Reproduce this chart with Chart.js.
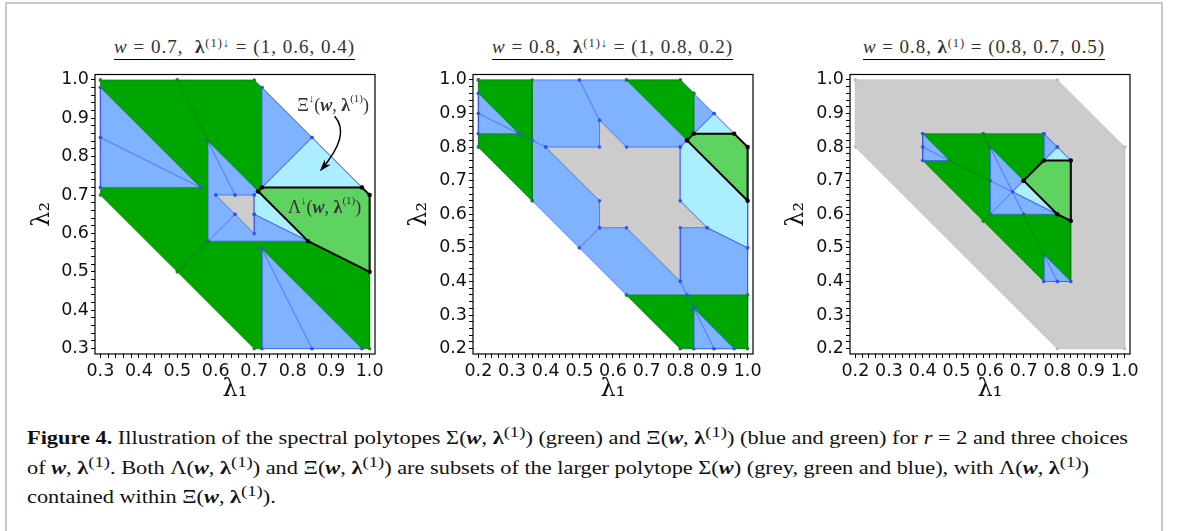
<!DOCTYPE html>
<html><head><meta charset="utf-8">
<script src="https://cdn.jsdelivr.net/npm/chart.js@4.4.0/dist/chart.umd.min.js"></script>
<style>
body{margin:0;background:#fff;width:1179px;height:531px;overflow:hidden;position:relative;font-family:'Liberation Serif','DejaVu Serif',serif;}
#frame{position:absolute;left:5px;top:2px;width:1158px;height:560px;border:2px solid #c8c8c8;box-sizing:border-box;}
canvas{position:absolute;top:62px;}
.ttl{position:absolute;top:37px;font-size:19px;line-height:20px;color:#333;white-space:nowrap;border-bottom:1.5px solid #000;padding:0 0 2px 0;}
.ttl sup,.cap sup{font-size:0.66em;line-height:0;vertical-align:0.5em;}
#cap{position:absolute;left:27px;top:421px;font-size:18px;line-height:23.5px;color:#111;transform-origin:0 0;}
#cap div{white-space:nowrap;}
</style></head>
<body>
<div id="frame"></div>
<div class="ttl" id="t1" data-c="234.5" data-w="241"><i>w</i> = 0.7,&nbsp; <b>λ</b><sup>(1)↓</sup> = (1, 0.6, 0.4)</div>
<div class="ttl" id="t2" data-c="612.5" data-w="241"><i>w</i> = 0.8,&nbsp; <b>λ</b><sup>(1)↓</sup> = (1, 0.8, 0.2)</div>
<div class="ttl" id="t3" data-c="984" data-w="242"><i>w</i> = 0.8, <b>λ</b><sup>(1)</sup> = (0.8, 0.7, 0.5)</div>
<canvas id="c1" width="389" height="352" style="left:0px"></canvas>
<canvas id="c2" width="389" height="352" style="left:378px"></canvas>
<canvas id="c3" width="389" height="352" style="left:755px"></canvas>
<div id="cap">
<div id="cl1"><b>Figure 4.</b> Illustration of the spectral polytopes Σ(<b><i>w</i></b>, <b>λ</b><sup>(1)</sup>) (green) and Ξ(<b><i>w</i></b>, <b>λ</b><sup>(1)</sup>) (blue and green) for <i>r</i> = 2 and three choices</div>
<div id="cl2">of <b><i>w</i></b>, <b>λ</b><sup>(1)</sup>. Both Λ(<b><i>w</i></b>, <b>λ</b><sup>(1)</sup>) and Ξ(<b><i>w</i></b>, <b>λ</b><sup>(1)</sup>) are subsets of the larger polytope Σ(<b><i>w</i></b>) (grey, green and blue), with Λ(<b><i>w</i></b>, <b>λ</b><sup>(1)</sup>)</div>
<div id="cl3">contained within Ξ(<b><i>w</i></b>, <b>λ</b><sup>(1)</sup>).</div>
</div>
<script>
// ---------- data ----------
const range1 = [0.286, 1.014];
const range23 = [0.184, 1.016];
const majorTicks1 = [0.3, 0.4, 0.5, 0.6, 0.7, 0.8, 0.9, 1.0];
const majorTicks23 = [0.2, 0.3, 0.4, 0.5, 0.6, 0.7, 0.8, 0.9, 1.0];

// panel 1: w = 0.7, lambda = (1, 0.6, 0.4)
const p1Sigma = [[0.3,1.0],[0.5,1.0],[0.7,1.0],[0.72,0.98],[0.98,0.72],[1.0,0.7],[1.0,0.5],[1.0,0.3],[0.98,0.3],[0.72,0.3],[0.7,0.3],[0.5,0.5],[0.3,0.7],[0.3,0.72],[0.3,0.98]];
const p1Green = [];
const p1Blue = [
  [[0.3,0.98],[0.3,0.85],[0.3,0.72],[0.56,0.72]],
  [[0.72,0.56],[0.72,0.3],[0.85,0.3],[0.98,0.3]],
  [[0.72,0.98],[0.85,0.85],[0.98,0.72],[0.72,0.72]],
  [[0.58,0.84],[0.71,0.71],[0.84,0.58],[0.58,0.58]]
];
const p1Grey = [[[0.6,0.7],[0.65,0.7],[0.7,0.7],[0.7,0.65],[0.7,0.6],[0.65,0.65]]];
const p1LightBlue = [[[0.72,0.72],[0.85,0.85],[0.98,0.72]], [[0.7,0.7],[0.71,0.71],[0.84,0.58],[0.7,0.65]]];
const p1Lambda = [[0.71,0.71],[0.72,0.72],[0.98,0.72],[1.0,0.7],[1.0,0.5],[0.84,0.58]];
const p1BlueLines = [[[0.3,0.85],[0.56,0.72]], [[0.85,0.3],[0.72,0.56]], [[0.72,0.72],[0.85,0.85]], [[0.58,0.84],[0.65,0.7]], [[0.65,0.65],[0.58,0.58]], [[0.7,0.65],[0.84,0.58]]];
const p1GreenLines = [[[0.5,1.0],[0.58,0.84]], [[0.58,0.58],[0.5,0.5]]];
const p1Labels = [{head:'Ξ', x:0.905, y:0.932}, {head:'Λ', x:0.883, y:0.666}];
const p1Arrow = [[0.909,0.905],[0.9525,0.857],[0.874,0.766]];

// panel 2: w = 0.8, lambda = (1, 0.8, 0.2)
const p2SigmaBlue = [[0.2,1.0],[0.5,1.0],[0.64,1.0],[0.8,1.0],[0.84,0.96],[0.9,0.9],[0.96,0.84],[1.0,0.8],[1.0,0.64],[1.0,0.5],[1.0,0.36],[1.0,0.2],[0.96,0.2],[0.9,0.2],[0.84,0.2],[0.8,0.2],[0.64,0.36],[0.5,0.5],[0.36,0.64],[0.2,0.8],[0.2,0.84],[0.2,0.9],[0.2,0.96]];
const p2Green = [
  [[0.2,1.0],[0.36,1.0],[0.36,0.82],[0.36,0.64],[0.2,0.8],[0.2,0.84]],
  [[0.64,1.0],[0.8,1.0],[0.84,0.96],[0.84,0.84],[0.82,0.82]],
  [[0.64,0.36],[0.82,0.36],[1.0,0.36],[1.0,0.2],[0.84,0.2],[0.8,0.2]]
];
const p2Blue = [[[0.2,0.96],[0.2,0.9],[0.2,0.84],[0.32,0.84]], [[0.84,0.32],[0.84,0.2],[0.9,0.2],[0.96,0.2]]];
const p2Grey = [[[0.4,0.8],[0.56,0.8],[0.56,0.88],[0.64,0.8],[0.8,0.8],[0.8,0.64],[0.88,0.56],[0.8,0.56],[0.8,0.4],[0.64,0.56],[0.56,0.56],[0.56,0.64]]];
const p2LightBlue = [[[0.82,0.82],[0.9,0.9],[0.96,0.84],[0.84,0.84]], [[0.8,0.8],[0.82,0.82],[1.0,0.64],[1.0,0.5],[0.88,0.56],[0.8,0.64]]];
const p2Lambda = [[0.82,0.82],[0.84,0.84],[0.96,0.84],[1.0,0.8],[1.0,0.64]];
const p2BlueLines = [[[0.5,1.0],[0.56,0.88]], [[0.5,0.5],[0.56,0.56]], [[0.8,0.8],[0.82,0.82],[0.9,0.9]], [[0.88,0.56],[1.0,0.5]], [[0.2,0.9],[0.32,0.84],[0.36,0.82],[0.4,0.8]], [[0.9,0.2],[0.84,0.32],[0.82,0.36],[0.8,0.4]]];
const p2GreenLines = [];

// panel 3: w = 0.8, lambda = (0.8, 0.7, 0.5)
const p3SigmaGrey = [[0.2,1.0],[0.8,1.0],[1.0,0.8],[1.0,0.2],[0.8,0.2],[0.2,0.8]];
const p3Green = [[[0.4,0.84],[0.58,0.84],[0.76,0.84],[0.84,0.76],[0.84,0.58],[0.84,0.4],[0.76,0.4],[0.58,0.58],[0.4,0.76]]];
const p3Blue = [[[0.4,0.84],[0.4,0.8],[0.4,0.76],[0.48,0.76]], [[0.76,0.48],[0.76,0.4],[0.8,0.4],[0.84,0.4]], [[0.76,0.84],[0.76,0.76],[0.84,0.76],[0.8,0.8]], [[0.6,0.8],[0.6,0.7],[0.6,0.6],[0.7,0.6],[0.8,0.6],[0.7,0.7]]];
const p3LightBlue = [[[0.76,0.76],[0.84,0.76],[0.8,0.8]], [[0.667,0.667],[0.8,0.6],[0.7,0.7]]];
const p3Lambda = [[0.7,0.7],[0.76,0.76],[0.84,0.76],[0.84,0.58],[0.8,0.6]];
const p3BlueLines = [[[0.4,0.8],[0.48,0.76]], [[0.76,0.48],[0.8,0.4]], [[0.76,0.76],[0.8,0.8]], [[0.6,0.8],[0.7,0.6]], [[0.6,0.7],[0.8,0.6]], [[0.6,0.6],[0.7,0.7]]];
const p3GreenLines = [[[0.58,0.84],[0.6,0.8]], [[0.7,0.6],[0.76,0.48]], [[0.48,0.76],[0.6,0.7]], [[0.8,0.6],[0.84,0.58]], [[0.58,0.58],[0.6,0.6]]];

// ---------- styles ----------
const COL = {
  green:'#00a600', greenEdge:'rgba(0,110,0,0.55)', greenDot:'#138a13',
  blue:'#80b3ff', blueEdge:'rgba(50,80,255,0.65)', blueDot:'#3350ff',
  lblue:'#aaeeff', grey:'#cccccc', greyEdge:'#c4c4c4', greyDot:'#bdbdbd',
  lgreen:'#5fd35f', black:'#000'
};

function ds(pts, o) {
  const data = pts.map(p => ({x:p[0], y:p[1]}));
  if (o.closed) data.push({x:pts[0][0], y:pts[0][1]});
  return {
    data, tension:0,
    fill: o.fill ? 'shape' : false,
    backgroundColor: o.fill || 'rgba(0,0,0,0)',
    borderColor: o.edge || 'rgba(0,0,0,0)',
    borderWidth: o.bw === undefined ? 1 : o.bw,
    pointRadius: o.pr === undefined ? 1.7 : o.pr,
    pointBackgroundColor: o.dot || 'rgba(0,0,0,0)',
    pointBorderWidth: 0, pointHoverRadius: 0,
    borderJoinStyle:'round'
  };
}
function layers(L) {
  const out = [];
  (L.base||[]).forEach(b => out.push(ds(b.pts, {closed:true, fill:b.fill, edge:b.edge, dot:b.dot})));
  (L.green||[]).forEach(p => out.push(ds(p, {closed:true, fill:COL.green, edge:COL.greenEdge, dot:COL.greenDot})));
  (L.blue||[]).forEach(p => out.push(ds(p, {closed:true, fill:COL.blue, edge:COL.blueEdge, dot:COL.blueDot})));
  (L.grey||[]).forEach(p => out.push(ds(p, {closed:true, fill:COL.grey, edge:COL.blueEdge, dot:COL.blueDot})));
  (L.lblue||[]).forEach(p => out.push(ds(p, {closed:true, fill:COL.lblue, edge:COL.blueEdge, dot:COL.blueDot})));
  (L.blueLines||[]).forEach(p => out.push(ds(p, {edge:COL.blueEdge, dot:COL.blueDot})));
  (L.greenLines||[]).forEach(p => out.push(ds(p, {edge:COL.greenEdge, dot:COL.greenDot})));
  out.push(ds(L.lambda, {closed:true, fill:COL.lgreen, edge:COL.black, dot:COL.black, bw:2, pr:2.2}));
  out.forEach((d,i) => d.order = out.length - i);
  return out;
}
function minorTicks(lo, hi) { const a=[]; for (let k=Math.round(lo*50); k<=Math.round(hi*50); k++) a.push(k/50); return a; }
function axis(pos, rng, major, title, tpad) {
  return {
    type:'linear', position:pos, min:rng[0], max:rng[1], bounds:'data',
    afterBuildTicks: s => { s.ticks = minorTicks(major[0], major[major.length-1]).map(v => ({value:v})); },
    afterFit: s => { if (pos === 'left') s.width = 95; else s.height = 60; },
    ticks:{ autoSkip:false, maxRotation:0, minRotation:0, padding: pos==='left' ? 2 : 3, color:'#111',
      font:{family:'DejaVu Sans', size:17.5},
      callback: v => major.some(m => Math.abs(m - v) < 1e-6) ? v.toFixed(1) : '' },
    grid:{ display:true, drawOnChartArea:false, drawTicks:true, tickLength:4, tickColor:'#000', tickWidth:1 },
    border:{ display:false },
    title:{ display:true, text:title, color:'#111', font:{family:'DejaVu Serif', size:24}, padding: pos==='left' ? {top:tpad, bottom:0} : {top:0, bottom:tpad} }
  };
}
const framePlugin = { id:'frame', afterDraw(chart) {
  const {ctx, chartArea:a} = chart; ctx.save(); ctx.strokeStyle='#000'; ctx.lineWidth=1.2;
  ctx.strokeRect(a.left, a.top, a.right - a.left, a.bottom - a.top); ctx.restore(); } };

function drawRich(ctx, parts, cx, cy) {
  let total = 0;
  parts.forEach(p => { ctx.font = p.f; p.w = ctx.measureText(p.t).width; total += p.w; });
  let x = cx - total / 2;
  ctx.textBaseline = 'middle'; ctx.textAlign = 'left';
  parts.forEach(p => { ctx.font = p.f; ctx.fillText(p.t, x, cy + (p.dy || 0)); x += p.w; });
}
const SERIF = "'Liberation Serif','DejaVu Serif',serif";
const notePlugin = { id:'notes', afterDraw(chart) {
  const {ctx} = chart; const xs = chart.scales.x, ys = chart.scales.y;
  ctx.save(); ctx.fillStyle = '#333';
  p1Labels.forEach(l => {
    drawRich(ctx, [
      {t:l.head, f:'18px '+SERIF}, {t:'↓', f:'11px '+SERIF, dy:-7}, {t:'(', f:'18px '+SERIF},
      {t:'w', f:'italic bold 18px '+SERIF}, {t:', ', f:'18px '+SERIF}, {t:'λ', f:'bold 18px '+SERIF},
      {t:'(1)', f:'11px '+SERIF, dy:-7}, {t:')', f:'18px '+SERIF}
    ], xs.getPixelForValue(l.x), ys.getPixelForValue(l.y));
  });
  const P = p1Arrow.map(p => [xs.getPixelForValue(p[0]), ys.getPixelForValue(p[1])]);
  ctx.strokeStyle = '#000'; ctx.fillStyle = '#000'; ctx.lineWidth = 1.5;
  ctx.beginPath(); ctx.moveTo(P[0][0], P[0][1]); ctx.quadraticCurveTo(P[1][0], P[1][1], P[2][0], P[2][1]); ctx.stroke();
  const ang = Math.atan2(P[2][1] - P[1][1], P[2][0] - P[1][0]);
  const L = 10, W = 4;
  const bx = P[2][0] - L*Math.cos(ang), by = P[2][1] - L*Math.sin(ang);
  ctx.beginPath(); ctx.moveTo(P[2][0] + 2*Math.cos(ang), P[2][1] + 2*Math.sin(ang));
  ctx.lineTo(bx + W*Math.sin(ang), by - W*Math.cos(ang));
  ctx.lineTo(bx + 0.35*L*Math.cos(ang), by + 0.35*L*Math.sin(ang));
  ctx.lineTo(bx - W*Math.sin(ang), by + W*Math.cos(ang));
  ctx.closePath(); ctx.fill();
  ctx.restore(); } };

function makeChart(id, dsets, rng, major, ytpad, extra) {
  return new Chart(document.getElementById(id), {
    type:'line',
    data:{ datasets: dsets },
    options:{
      responsive:false, animation:false, events:[], devicePixelRatio:1,
      layout:{ padding:{left:0, top:12, right:14, bottom:0} },
      plugins:{ legend:{display:false}, tooltip:{enabled:false} },
      scales:{ x: axis('bottom', rng, major, 'λ₁', 10), y: axis('left', rng, major, 'λ₂', ytpad) }
    },
    plugins:[framePlugin].concat(extra || [])
  });
}

makeChart('c1', layers({
  base:[{pts:p1Sigma, fill:COL.green, edge:COL.greenEdge, dot:COL.greenDot}],
  green:p1Green, blue:p1Blue, grey:p1Grey, lblue:p1LightBlue,
  blueLines:p1BlueLines, greenLines:p1GreenLines, lambda:p1Lambda
}), range1, majorTicks1, 28, [notePlugin]);

makeChart('c2', layers({
  base:[{pts:p2SigmaBlue, fill:COL.blue, edge:COL.blueEdge, dot:COL.blueDot}],
  green:p2Green, blue:p2Blue, grey:p2Grey, lblue:p2LightBlue,
  blueLines:p2BlueLines, greenLines:p2GreenLines, lambda:p2Lambda
}), range23, majorTicks23, 27, []);

makeChart('c3', layers({
  base:[{pts:p3SigmaGrey, fill:COL.grey, edge:COL.greyEdge, dot:COL.greyDot}],
  green:p3Green, blue:p3Blue, grey:[], lblue:p3LightBlue,
  blueLines:p3BlueLines, greenLines:p3GreenLines, lambda:p3Lambda
}), range23, majorTicks23, 27, []);

// ---------- text fitting ----------
document.querySelectorAll('.ttl').forEach(el => {
  const target = +el.dataset.w, c = +el.dataset.c;
  const n = el.textContent.length;
  const w0 = el.getBoundingClientRect().width;
  el.style.letterSpacing = ((target - w0) / n) + 'px';
  const w1 = el.getBoundingClientRect().width;
  el.style.left = (c - w1 / 2) + 'px';
});
const cap = document.getElementById('cap');
const wl1 = document.getElementById('cl1').getBoundingClientRect().width;
cap.style.transform = 'scaleX(' + (1101 / wl1) + ')';
</script>
</body></html>
